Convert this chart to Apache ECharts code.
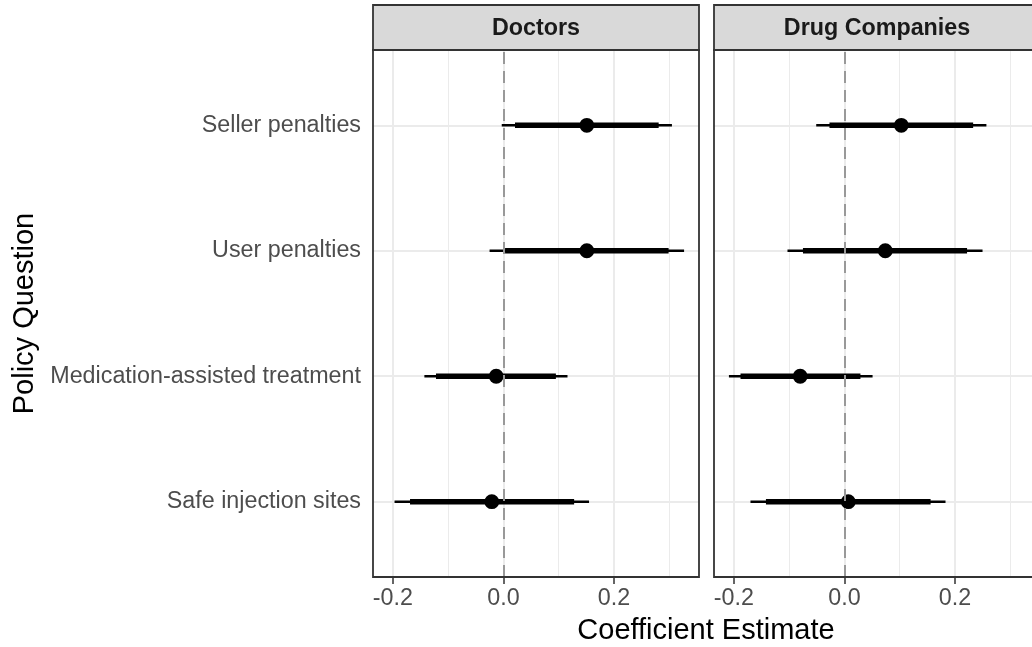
<!DOCTYPE html>
<html>
<head>
<meta charset="utf-8">
<script src="https://cdn.jsdelivr.net/npm/echarts@6/dist/echarts.min.js"></script>
<style>
  html, body { margin: 0; padding: 0; background: #fff; }
  #chart { width: 1032px; height: 647px; }
</style>
</head>
<body>
<div id="chart"></div>
<script>
// policy questions, top to bottom
const categories = ['Seller penalties', 'User penalties', 'Medication-assisted treatment', 'Safe injection sites']
const facets = ['Doctors', 'Drug Companies']

// Doctors: estimate, outer interval, inner interval
const doctorsEst = [0.151, 0.151, -0.013, -0.021]
const doctorsLoOuter = [-0.003, -0.025, -0.143, -0.197]
const doctorsHiOuter = [0.305, 0.327, 0.116, 0.155]
const doctorsLoInner = [0.021, 0.003, -0.122, -0.169]
const doctorsHiInner = [0.281, 0.299, 0.095, 0.128]

// Drug Companies
const drugEst = [0.103, 0.074, -0.080, 0.007]
const drugLoOuter = [-0.051, -0.103, -0.209, -0.170]
const drugHiOuter = [0.257, 0.250, 0.051, 0.183]
const drugLoInner = [-0.027, -0.075, -0.188, -0.142]
const drugHiInner = [0.233, 0.222, 0.029, 0.156]

const xTicks = [-0.2, 0, 0.2]
const xMinor = [-0.1, 0.1, 0.3]
const yTicks = [1, 2, 3, 4]

const FONT = '"Liberation Sans", Arial, sans-serif'
const PANEL_LEFT = [373, 714]
const PANEL_W = 326
const PANEL_TOP = 50
const PANEL_H = 527
const STRIP_TOP = 5

function rows(est, lo, hi, loIn, hiIn) {
  // [y, est, loOuter, hiOuter, loInner, hiInner]; first category sits on top
  return categories.map((c, i) => [categories.length - i, est[i], lo[i], hi[i], loIn[i], hiIn[i]])
}

const facetData = [
  rows(doctorsEst, doctorsLoOuter, doctorsHiOuter, doctorsLoInner, doctorsHiInner),
  rows(drugEst, drugLoOuter, drugHiOuter, drugLoInner, drugHiInner)
]

function renderPointRange(params, api) {
  const y = api.value(0)
  const p = api.coord([api.value(1), y])
  const a = api.coord([api.value(2), y])
  const b = api.coord([api.value(3), y])
  const c = api.coord([api.value(4), y])
  const d = api.coord([api.value(5), y])
  const thin = 2.5, thick = 5.5
  return {
    type: 'group',
    children: [
      { type: 'rect', shape: { x: a[0], y: a[1] - thin / 2, width: b[0] - a[0], height: thin }, style: { fill: '#000' } },
      { type: 'rect', shape: { x: c[0], y: c[1] - thick / 2, width: d[0] - c[0], height: thick }, style: { fill: '#000' } },
      { type: 'circle', shape: { cx: p[0], cy: p[1], r: 7.4 }, style: { fill: '#000' } }
    ]
  }
}

const chart = echarts.init(document.getElementById('chart'), null, { renderer: 'canvas' })

const grids = PANEL_LEFT.map(l => ({
  left: l, top: PANEL_TOP, width: PANEL_W, height: PANEL_H,
  containLabel: false, outerBoundsMode: 'none', show: false
}))

const xAxes = facets.map((f, i) => ({
  gridIndex: i, type: 'value', min: -0.236, max: 0.354,
  axisLine: { show: false },
  axisTick: { show: true, customValues: xTicks, length: 7, lineStyle: { color: '#333', width: 1.5 } },
  axisLabel: {
    customValues: xTicks, formatter: v => Number(v).toFixed(1),
    fontSize: 23.3, color: '#4D4D4D', margin: 10, fontFamily: FONT
  },
  splitLine: { show: false }
}))

const yAxes = facets.map((f, i) => ({
  gridIndex: i, type: 'value', min: 0.4, max: 4.6,
  axisLine: { show: false },
  axisTick: { show: i === 0, customValues: yTicks, length: 7, lineStyle: { color: '#333', width: 1.5 } },
  axisLabel: {
    show: i === 0, customValues: yTicks,
    formatter: v => categories[categories.length - Math.round(v)],
    fontSize: 23.3, color: '#4D4D4D', margin: 12, fontFamily: FONT,
    padding: [7, 0, 0, 0]
  },
  splitLine: { show: false }
}))

const series = []
facets.forEach((f, i) => {
  // panel grid lines, kept under the point ranges
  series.push({
    type: 'scatter', xAxisIndex: i, yAxisIndex: i, data: [], z: 1, silent: true,
    markLine: {
      z: 1, silent: true, symbol: ['none', 'none'], label: { show: false }, animation: false,
      data: [
        ...xMinor.map(v => ({ xAxis: v, lineStyle: { color: '#EBEBEB', width: 1, type: 'solid' } })),
        ...xTicks.map(v => ({ xAxis: v, lineStyle: { color: '#EBEBEB', width: 2, type: 'solid' } })),
        ...yTicks.map(v => ({ yAxis: v, lineStyle: { color: '#EBEBEB', width: 2, type: 'solid' } }))
      ]
    }
  })
  series.push({
    type: 'custom', name: f, xAxisIndex: i, yAxisIndex: i, z: 3,
    data: facetData[i], encode: { x: [1, 2, 3, 4, 5], y: 0 },
    renderItem: renderPointRange, animation: false
  })
  // zero reference line, drawn on top
  series.push({
    type: 'scatter', xAxisIndex: i, yAxisIndex: i, data: [], z: 10, silent: true,
    markLine: {
      z: 10, silent: true, symbol: ['none', 'none'], label: { show: false }, animation: false,
      data: [{ xAxis: 0, lineStyle: { color: '#999999', width: 2, type: [12, 7] } }]
    }
  })
})

const graphics = []
facets.forEach((f, i) => {
  graphics.push({
    type: 'rect', z: 100, silent: true,
    shape: { x: PANEL_LEFT[i], y: PANEL_TOP, width: PANEL_W, height: PANEL_H },
    style: { fill: 'none', stroke: '#333333', lineWidth: 1.8 }
  })
  graphics.push({
    type: 'rect', z: 100, silent: true,
    shape: { x: PANEL_LEFT[i], y: STRIP_TOP, width: PANEL_W, height: PANEL_TOP - STRIP_TOP },
    style: { fill: '#D9D9D9', stroke: '#333333', lineWidth: 1.8 }
  })
  graphics.push({
    type: 'text', z: 101, silent: true,
    x: PANEL_LEFT[i] + PANEL_W / 2, y: (STRIP_TOP + PANEL_TOP) / 2 + 1,
    style: {
      text: f, font: 'bold 23.3px ' + FONT, fill: '#1A1A1A',
      textAlign: 'center', textVerticalAlign: 'middle'
    }
  })
})
graphics.push({
  type: 'text', silent: true, x: 706, y: 631,
  style: { text: 'Coefficient Estimate', font: '29px ' + FONT, fill: '#000', textAlign: 'center', textVerticalAlign: 'middle' }
})
graphics.push({
  type: 'text', silent: true, x: 25, y: PANEL_TOP + PANEL_H / 2, rotation: Math.PI / 2,
  style: { text: 'Policy Question', font: '29px ' + FONT, fill: '#000', textAlign: 'center', textVerticalAlign: 'middle' }
})

chart.setOption({
  animation: false,
  backgroundColor: '#fff',
  grid: grids,
  xAxis: xAxes,
  yAxis: yAxes,
  series: series,
  graphic: graphics
})
</script>
</body>
</html>
